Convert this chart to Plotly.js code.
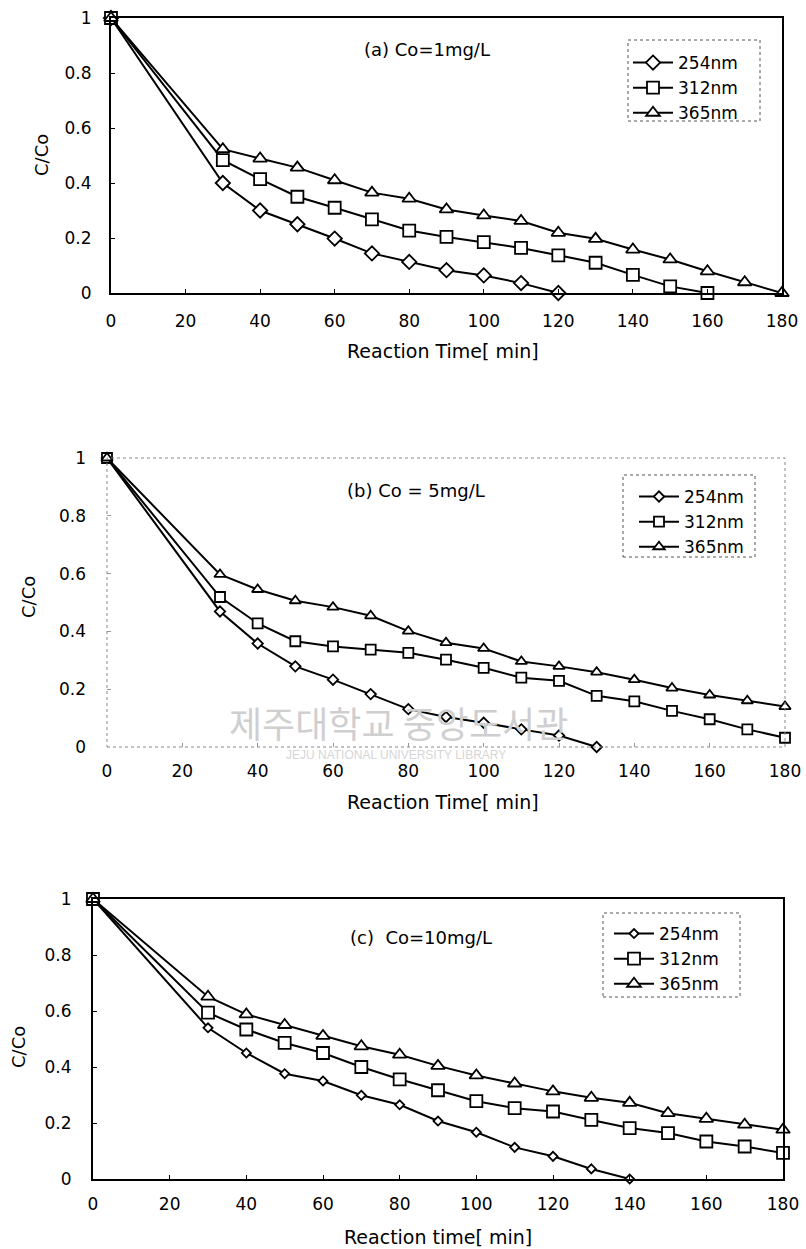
<!DOCTYPE html>
<html>
<head>
<meta charset="utf-8">
<script src="https://cdn.plot.ly/plotly-3.0.1.min.js"></script>
<style>html,body{margin:0;padding:0;background:#fff;}#chart{width:806px;height:1249px;}</style>
</head>
<body>
<div id="chart"></div>
<script>
// ---- data ----
const time = [0,30,40,50,60,70,80,90,100,110,120,130,140,150,160,170,180];

// (a) Co = 1 mg/L
const a254 = [1.0,0.40,0.30,0.25,0.198,0.144,0.113,0.083,0.064,0.036,0.0];
const a312 = [1.0,0.483,0.414,0.35,0.31,0.268,0.227,0.204,0.185,0.164,0.137,0.11,0.066,0.024,0.0];
const a365 = [1.0,0.523,0.489,0.456,0.41,0.365,0.343,0.304,0.282,0.262,0.219,0.197,0.158,0.122,0.079,0.039,0.0];

// (b) Co = 5 mg/L
const b254 = [1.0,0.469,0.358,0.279,0.233,0.183,0.131,0.104,0.084,0.061,0.04,0.0];
const b312 = [1.0,0.519,0.428,0.366,0.348,0.337,0.326,0.302,0.274,0.240,0.229,0.177,0.158,0.125,0.096,0.061,0.032];
const b365 = [1.0,0.597,0.545,0.506,0.484,0.454,0.401,0.361,0.341,0.296,0.279,0.259,0.233,0.204,0.180,0.160,0.140];

// (c) Co = 10 mg/L
const c254 = [1.0,0.540,0.450,0.376,0.350,0.299,0.265,0.207,0.167,0.113,0.081,0.036,0.0];
const c312 = [1.0,0.594,0.534,0.486,0.450,0.400,0.356,0.317,0.278,0.253,0.241,0.211,0.182,0.164,0.134,0.116,0.093];
const c365 = [1.0,0.651,0.588,0.550,0.511,0.474,0.444,0.404,0.370,0.341,0.313,0.290,0.272,0.235,0.215,0.194,0.176];

const seriesNames = ['254nm','312nm','365nm'];
const panelTitles = ['(a) Co=1mg/L','(b) Co = 5mg/L','(c)  Co=10mg/L'];
const xTitles = ['Reaction Time[ min]','Reaction Time[ min]','Reaction time[ min]'];
const yTitle = 'C/Co';
const xTicks = [0,20,40,60,80,100,120,140,160,180];
const yTicks = [0,0.2,0.4,0.6,0.8,1];
const yTickText = ['0','0.2','0.4','0.6','0.8','1'];
const watermarkKo = '제주대학교 중앙도서관';
const watermarkEn = 'JEJU NATIONAL UNIVERSITY LIBRARY';

// ---- geometry helpers ----
const W = 806, H = 1249;
const px = v => v / W;
const py = v => 1 - v / H;

const FONT = 'DejaVu Sans, Liberation Sans, sans-serif';
const symbols = ['diamond','square','triangle-up'];

function mk(x, y, i, name, axisIdx, legendId, sizes) {
  const sfx = axisIdx === 1 ? '' : String(axisIdx);
  return {
    x: x.slice(0, y.length), y: y, name: name, type: 'scatter', mode: 'lines+markers',
    xaxis: 'x' + sfx, yaxis: 'y' + sfx, legend: legendId, showlegend: true,
    cliponaxis: false,
    line: {color: '#000', width: 2},
    marker: {symbol: symbols[i], size: sizes[i], color: '#fff', line: {color: '#000', width: 1.8}}
  };
}

const traces = [];
[[a254,a312,a365],[b254,b312,b365],[c254,c312,c365]].forEach((set, p) => {
  const legendId = p === 0 ? 'legend' : 'legend' + (p + 1);
  const sizes = p === 0 ? [11,12,12] : (p === 1 ? [8,10,10] : [7,12,12]);
  set.forEach((ys, i) => traces.push(mk(time, ys, i, seriesNames[i], p + 1, legendId, sizes)));
});

function xax(domain, anchor, solid, standoff) {
  return {
    domain: domain, anchor: anchor, range: [0, 180], tickvals: xTicks,
    ticks: 'inside', ticklen: 4, tickcolor: solid ? '#000' : '#999',
    showgrid: false, zeroline: false,
    showline: solid, linecolor: '#000', linewidth: 2, mirror: solid,
    tickfont: {family: FONT, size: 17, color: '#000'},
    ticklabelstandoff: standoff
  };
}
function yax(domain, anchor, solid, standoff) {
  return {
    domain: domain, anchor: anchor, range: [0, 1], tickvals: yTicks, ticktext: yTickText,
    ticks: 'inside', ticklen: 4, tickcolor: solid ? '#000' : '#999',
    showgrid: false, zeroline: false,
    showline: solid, linecolor: '#000', linewidth: 2, mirror: solid,
    tickfont: {family: FONT, size: 17, color: '#000'},
    ticklabelstandoff: standoff
  };
}

const dom = [
  {x: [px(111), px(782)], y: [py(293), py(18)]},
  {x: [px(107), px(785)], y: [py(747), py(458)]},
  {x: [px(93),  px(783)], y: [py(1179), py(899)]}
];

const legendBase = {xanchor: 'left', yanchor: 'top', bgcolor: 'rgba(0,0,0,0)', borderwidth: 0, itemwidth: 40, tracegroupgap: 0};

function ann(text, x, y, size, extra) {
  return Object.assign({text: text, xref: 'paper', yref: 'paper', x: px(x), y: py(y),
    xanchor: 'center', yanchor: 'middle', showarrow: false,
    font: {family: FONT, size: size, color: '#000'}}, extra || {});
}

const layout = {
  width: W, height: H, margin: {l: 0, r: 0, t: 0, b: 0},
  paper_bgcolor: '#fff', plot_bgcolor: 'rgba(0,0,0,0)',
  font: {family: FONT, color: '#000'},
  xaxis: xax(dom[0].x, 'y', true, 12),
  yaxis: yax(dom[0].y, 'x', true, 14),
  xaxis2: xax(dom[1].x, 'y2', false, 12),
  yaxis2: yax(dom[1].y, 'x2', false, 20),
  xaxis3: xax(dom[2].x, 'y3', true, 9),
  yaxis3: yax(dom[2].y, 'x3', true, 16),
  legend:  Object.assign({x: px(628), y: py(45),  font: {family: FONT, size: 17}}, legendBase),
  legend2: Object.assign({x: px(634), y: py(479), font: {family: FONT, size: 17}}, legendBase),
  legend3: Object.assign({x: px(609), y: py(916), font: {family: FONT, size: 17}}, legendBase),
  shapes: [
    // dashed legend frames
    {type: 'rect', xref: 'paper', yref: 'paper', x0: px(628), x1: px(760), y0: py(121), y1: py(40), line: {color: '#555', width: 1, dash: 'dot'}},
    {type: 'rect', xref: 'paper', yref: 'paper', x0: px(623), x1: px(755), y0: py(557), y1: py(475), line: {color: '#555', width: 1, dash: 'dot'}},
    {type: 'rect', xref: 'paper', yref: 'paper', x0: px(603), x1: px(740), y0: py(997), y1: py(913), line: {color: '#555', width: 1, dash: 'dot'}},
    // faint dotted frame of panel (b)
    {type: 'rect', xref: 'x2 domain', yref: 'y2 domain', x0: 0, x1: 1, y0: 0, y1: 1, line: {color: '#888', width: 1, dash: 'dot'}}
  ],
  annotations: [
    ann(panelTitles[0], 427, 50, 18),
    ann(panelTitles[1], 416, 490, 18),
    ann(panelTitles[2], 421, 937, 18),
    ann(xTitles[0], 443, 351, 19),
    ann(xTitles[1], 443, 802, 19),
    ann(xTitles[2], 438, 1237, 19),
    ann(yTitle, 41, 155, 18, {textangle: -90}),
    ann(yTitle, 28, 597, 18, {textangle: -90}),
    ann(yTitle, 18, 1047, 18, {textangle: -90}),
    ann(watermarkKo, 398, 722, 36, {font: {family: 'Noto Sans CJK KR', size: 36, color: '#cfcfcf'}}),
    ann(watermarkEn, 396, 755, 12, {font: {family: 'Liberation Sans', size: 12, color: '#d6d6d6'}})
  ]
};

Plotly.newPlot('chart', traces, layout, {staticPlot: true, displayModeBar: false});
</script>
</body>
</html>
